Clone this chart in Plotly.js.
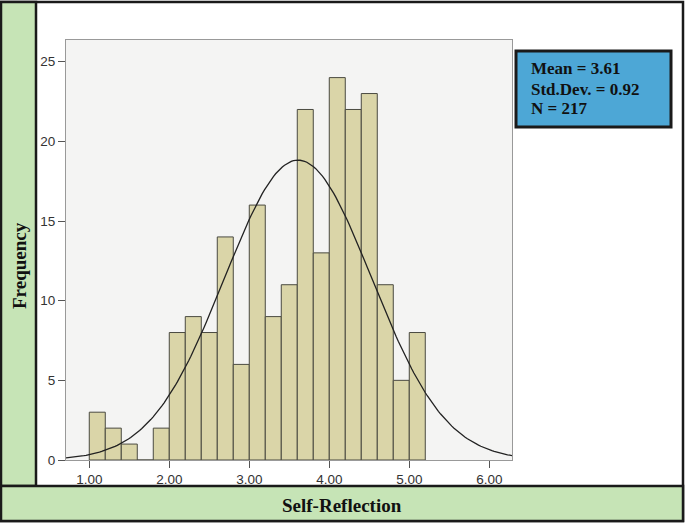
<!DOCTYPE html>
<html>
<head>
<meta charset="utf-8">
<script src="https://cdn.jsdelivr.net/npm/plotly.js-dist@3/plotly.min.js"></script>
<style>
  html, body { margin: 0; padding: 0; background: #fff; }
  #chart { width: 685px; height: 523px; }
</style>
</head>
<body>
<div id="chart"></div>
<script>
// ヒストグラム（Self-Reflection）+ 正規曲線
const binStarts = [1.0, 1.2, 1.4, 1.6, 1.8, 2.0, 2.2, 2.4, 2.6, 2.8, 3.0,
  3.2, 3.4, 3.6, 3.8, 4.0, 4.2, 4.4, 4.6, 4.8, 5.0];
const counts = [3, 2, 1, 0, 2, 8, 9, 8, 14, 6, 16, 9, 11, 22, 13, 24, 22, 23, 11, 5, 8];
const BIN_W = 0.2;
const MEAN = 3.61, SD = 0.92, N = 217;
const xTicks = [1, 2, 3, 4, 5, 6];
const yTicks = [0, 5, 10, 15, 20, 25];
const statLines = ['Mean = 3.61', 'Std.Dev. = 0.92', 'N = 217'];

// プロット領域（px）: x 66..512, y 40..460
const PL = 66, PR = 512, PT = 40, PB = 460, W = 685, H = 523;
const px = (x) => (x - PL) / (PR - PL);
const py = (y) => (PB - y) / (PB - PT);

// 表示されている Mean / SD / N から正規曲線
const X0 = 0.709, X1 = 6.284;
const cx = [], cy = [];
for (let i = 0; i <= 200; i++) {
  const x = X0 + (X1 - X0) * i / 200;
  cx.push(x);
  cy.push(N * BIN_W / (SD * Math.sqrt(2 * Math.PI)) * Math.exp(-0.5 * ((x - MEAN) / SD) ** 2));
}

const traces = [
  {
    type: 'bar', x: binStarts.map((b) => b + BIN_W / 2), y: counts, width: BIN_W,
    marker: { color: '#dad5a8', line: { color: '#4a4a40', width: 1 } },
    hoverinfo: 'x+y',
  },
  {
    type: 'scatter', mode: 'lines', x: cx, y: cy,
    line: { color: '#222', width: 1.3 }, hoverinfo: 'skip',
  },
];

const serif = 'Liberation Serif, Times New Roman, serif';
const frameLine = { color: '#1a1a1a', width: 2.5 };

const shapes = [
  // 外枠
  { type: 'rect', xref: 'paper', yref: 'paper', layer: 'below',
    x0: px(1), x1: px(683), y0: py(2), y1: py(521), line: frameLine },
  // 左の帯
  { type: 'rect', xref: 'paper', yref: 'paper',
    x0: px(1), x1: px(36), y0: py(2), y1: py(486), fillcolor: '#c6e4b6', line: frameLine },
  // 下の帯
  { type: 'rect', xref: 'paper', yref: 'paper',
    x0: px(1), x1: px(683), y0: py(486), y1: py(521), fillcolor: '#c6e4b6', line: frameLine },
  // 統計量の箱
  { type: 'rect', xref: 'paper', yref: 'paper',
    x0: px(516), x1: px(671), y0: py(51), y1: py(127), fillcolor: '#4da7d6',
    line: { color: '#1a1a1a', width: 3 } },
];

const annotations = [
  { xref: 'paper', yref: 'paper', x: px(19), y: py(266), xanchor: 'center', yanchor: 'middle',
    text: '<b>Frequency</b>', textangle: -90,
    showarrow: false, font: { family: serif, size: 19, color: '#111' } },
  { xref: 'paper', yref: 'paper', x: px(342), y: py(505), xanchor: 'center', yanchor: 'middle',
    text: '<b>Self-Reflection</b>',
    showarrow: false, font: { family: serif, size: 19, color: '#111' } },
  ...statLines.map((t, i) => ({
    xref: 'paper', yref: 'paper', x: px(529), y: py(69 + i * 20), xanchor: 'left', yanchor: 'middle',
    text: '<b>' + t + '</b>', showarrow: false, font: { family: serif, size: 17, color: '#111' },
  })),
];

const layout = {
  width: W, height: H,
  margin: { l: PL, r: W - PR, t: PT, b: H - PB },
  paper_bgcolor: '#fff', plot_bgcolor: '#f4f4f3',
  showlegend: false, bargap: 0,
  font: { family: 'Liberation Sans, Arial, sans-serif', size: 13.5, color: '#333' },
  xaxis: {
    range: [X0, X1], tickvals: xTicks, ticktext: xTicks.map((v) => v.toFixed(2)),
    ticks: 'outside', ticklen: 7, tickcolor: '#555', showgrid: false, zeroline: false,
    showline: true, linecolor: '#999', linewidth: 1, mirror: true,
  },
  yaxis: {
    range: [0, 26.36], tickvals: yTicks, ticks: 'outside', ticklen: 7, tickcolor: '#555',
    showgrid: false, zeroline: false, showline: true, linecolor: '#999', linewidth: 1, mirror: true,
  },
  shapes, annotations,
};

Plotly.newPlot('chart', traces, layout, { displayModeBar: false, staticPlot: true });
</script>
</body>
</html>
